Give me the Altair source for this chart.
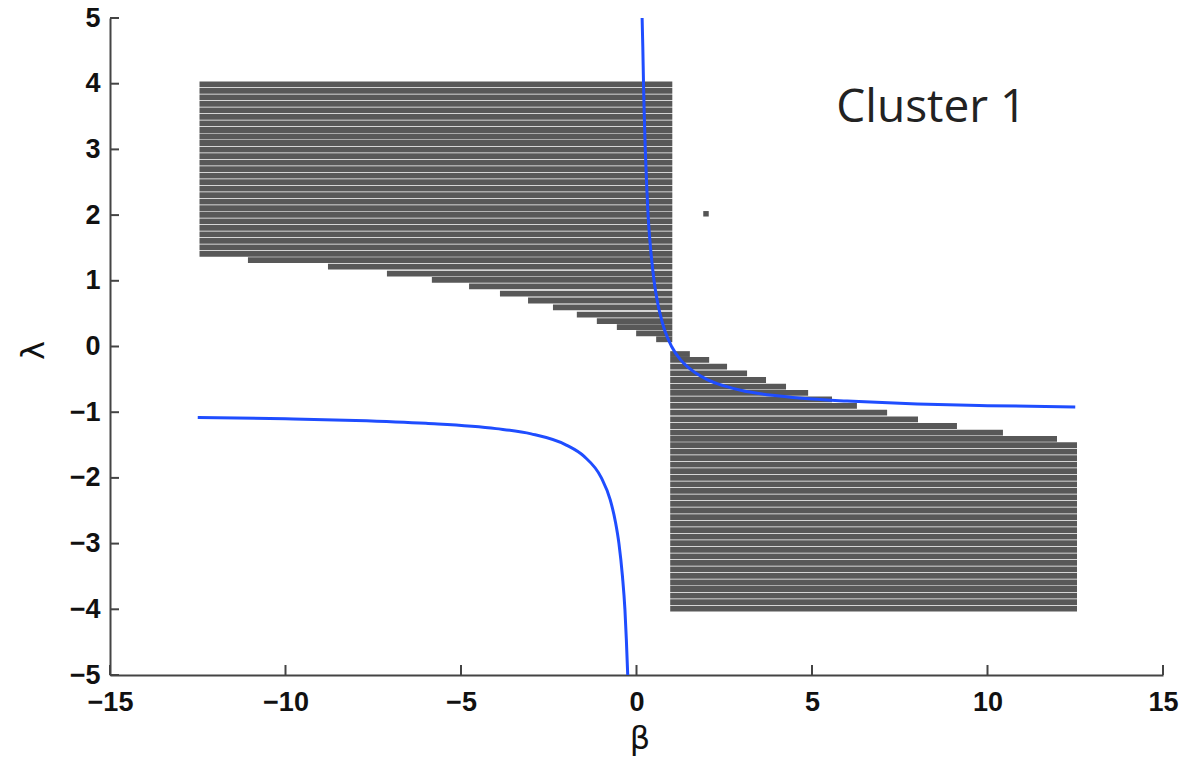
import altair as alt
import pandas as pd
import numpy as np

# ---- data ----
# upper-left hatched region
ul_block_lambda = [1.36, 4.04]
ul_block_beta = [-12.45, 1.02]
ul_step_top = [1.36, 1.27, 1.16, 1.06, 0.97, 0.86, 0.75, 0.65, 0.54, 0.43, 0.34, 0.25, 0.15]
ul_step_bottom = [1.27, 1.16, 1.06, 0.97, 0.86, 0.75, 0.65, 0.54, 0.43, 0.34, 0.25, 0.15, 0.07]
ul_step_start = [-11.07, -8.79, -7.11, -5.83, -4.77, -3.89, -3.09, -2.38, -1.70, -1.13, -0.56, -0.01, 0.56]

# lower-right hatched region
lr_block_lambda = [-4.04, -1.45]
lr_block_beta = [0.96, 12.55]
lr_step_top = [-0.07, -0.16, -0.25, -0.36, -0.46, -0.56, -0.66, -0.75, -0.86, -0.95, -1.06, -1.16, -1.26, -1.36]
lr_step_bottom = [-0.16, -0.25, -0.36, -0.46, -0.56, -0.66, -0.75, -0.86, -0.95, -1.06, -1.16, -1.26, -1.36, -1.45]
lr_step_end = [1.52, 2.07, 2.58, 3.15, 3.69, 4.26, 4.89, 5.57, 6.28, 7.14, 8.02, 9.13, 10.44, 11.98]

# blue curve, right branch
right_beta = [0.16, 0.18, 0.20, 0.22, 0.25, 0.29, 0.33, 0.40, 0.50, 0.60, 0.67, 0.80, 1.00, 1.25, 1.50, 2.0, 2.5, 3.0, 4.0, 5.0, 6.0, 8.0, 10.0, 12.5]
right_lambda = [5.0, 4.55, 4.0, 3.55, 3.0, 2.45, 2.0, 1.5, 1.0, 0.67, 0.5, 0.25, 0.0, -0.2, -0.33, -0.5, -0.6, -0.67, -0.75, -0.8, -0.83, -0.875, -0.9, -0.92]
# blue curve, left branch
left_beta = [-12.5, -10.0, -8.0, -6.0, -4.0, -3.0, -2.0, -1.5, -1.0, -0.75, -0.6, -0.5, -0.4, -0.33, -0.29, -0.25]
left_lambda = [-1.08, -1.1, -1.125, -1.17, -1.25, -1.33, -1.5, -1.67, -2.0, -2.33, -2.67, -3.0, -3.5, -4.0, -4.45, -5.0]

# isolated point
dot_beta = [1.98]
dot_lambda = [2.02]

# annotation
note_text = ["Cluster 1"]
note_beta = [8.4]
note_lambda = [3.63]

x_ticks = [-15, -10, -5, 0, 5, 10, 15]
y_ticks = [-5, -4, -3, -2, -1, 0, 1, 2, 3, 4, 5]

# ---- build stripe rows (texture of the hatched regions) ----
row_h = 0.1
rows = []

def block_rows(lo, hi, b0, b1):
    n = max(1, int(round((hi - lo) / row_h)))
    edges = np.linspace(lo, hi, n + 1)
    for a, b in zip(edges[:-1], edges[1:]):
        rows.append({"y": (a + b) / 2, "x": b0, "x2": b1})

block_rows(ul_block_lambda[0], ul_block_lambda[1], ul_block_beta[0], ul_block_beta[1])
for t, b, s in zip(ul_step_top, ul_step_bottom, ul_step_start):
    rows.append({"y": (t + b) / 2, "x": s, "x2": ul_block_beta[1]})
block_rows(lr_block_lambda[0], lr_block_lambda[1], lr_block_beta[0], lr_block_beta[1])
for t, b, e in zip(lr_step_top, lr_step_bottom, lr_step_end):
    rows.append({"y": (t + b) / 2, "x": lr_block_beta[0], "x2": e})

rows_df = pd.DataFrame(rows)

curve_df = pd.concat([
    pd.DataFrame({"beta": right_beta, "lambda": right_lambda, "branch": "right"}),
    pd.DataFrame({"beta": left_beta, "lambda": left_lambda, "branch": "left"}),
])

dot_df = pd.DataFrame({"beta": dot_beta, "lambda": dot_lambda})
note_df = pd.DataFrame({"beta": note_beta, "lambda": note_lambda, "text": note_text})
xt_df = pd.DataFrame({"v": x_ticks})
yt_df = pd.DataFrame({"v": y_ticks})

W, H = 1053, 657
xscale = alt.Scale(domain=[-15, 15], nice=False, zero=False)
yscale = alt.Scale(domain=[-5, 5], nice=False, zero=False)

label_font = "Liberation Sans"

xaxis = alt.Axis(values=x_ticks, format="d", title="β", titleFont="DejaVu Sans", titleFontSize=32,
                 titleFontWeight="normal", titleColor="#111",
                 titleX=W / 2 + 3, titleY=73, titleBaseline="alphabetic", titleAlign="center",
                 labelFont=label_font, labelFontSize=27, labelFontWeight="bold",
                 labelColor="#111", labelPadding=14, ticks=False, grid=False,
                 domainColor="#444", domainWidth=2, labelFlush=False)
yaxis = alt.Axis(values=y_ticks, format="d", title="λ", titleFont="DejaVu Sans", titleFontSize=32,
                 titleFontWeight="normal", titleColor="#111",
                 titleX=-77, titleY=332, titleAngle=270, titleBaseline="middle", titleAlign="center",
                 labelFont=label_font, labelFontSize=27, labelFontWeight="bold",
                 labelColor="#111", labelPadding=10, ticks=False, grid=False,
                 domainColor="#444", domainWidth=2, labelFlush=False)

stripes = alt.Chart(rows_df).mark_rule(color="#585858", strokeWidth=5.8).encode(
    x=alt.X("x:Q", scale=xscale, axis=xaxis),
    x2="x2:Q",
    y=alt.Y("y:Q", scale=yscale, axis=yaxis),
)

curve = alt.Chart(curve_df).mark_line(color="#1f4dff", strokeWidth=3, interpolate="monotone").encode(
    x=alt.X("beta:Q", scale=xscale),
    y=alt.Y("lambda:Q", scale=yscale),
    detail="branch:N",
    order="beta:Q",
)

dot = alt.Chart(dot_df).mark_square(color="#555", size=30, opacity=1).encode(
    x=alt.X("beta:Q", scale=xscale),
    y=alt.Y("lambda:Q", scale=yscale),
)

note = alt.Chart(note_df).mark_text(font="Open Sans", fontSize=46, color="#222",
                                     align="center", baseline="middle").encode(
    x=alt.X("beta:Q", scale=xscale),
    y=alt.Y("lambda:Q", scale=yscale),
    text="text:N",
)

xticks = alt.Chart(xt_df).mark_rule(color="#444", strokeWidth=2).encode(
    x=alt.X("v:Q", scale=xscale),
    y=alt.value(H),
    y2=alt.value(H - 10),
)
yticks = alt.Chart(yt_df).mark_rule(color="#444", strokeWidth=2).encode(
    y=alt.Y("v:Q", scale=yscale),
    x=alt.value(0),
    x2=alt.value(9),
)

chart = alt.layer(stripes, curve, dot, note, xticks, yticks).properties(
    width=W, height=H,
    autosize=alt.AutoSizeParams(type="none"),
    padding={"left": 110, "top": 18, "right": 21, "bottom": 83},
    background="white",
).configure_view(stroke=None)

chart.save("out.html", embed_options={"renderer": "svg", "actions": False})
